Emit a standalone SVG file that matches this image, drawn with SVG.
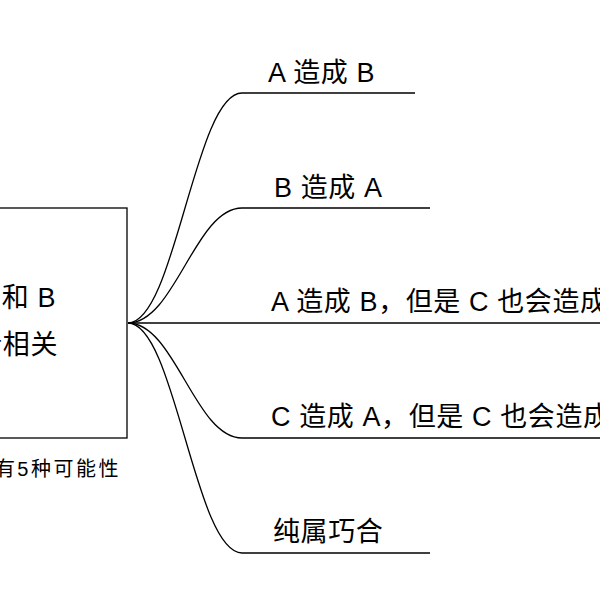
<svg xmlns="http://www.w3.org/2000/svg" width="600" height="600" viewBox="0 0 600 600">
<style>
text{font-family:"Liberation Sans","Noto Sans CJK SC",sans-serif;fill:#000}
.l{font-size:27px;letter-spacing:0.6px}
.e{stroke:#000;stroke-width:1.3;fill:none}
</style>
<rect width="600" height="600" fill="#fff"/>
<g id="root">
<rect x="-80" y="208" width="207" height="230" fill="#fff" stroke="#000" stroke-width="1.3"/>
<text class="l" x="56" y="307" text-anchor="end" font-size="28">A 和 B</text>
<text class="l" x="58" y="354" text-anchor="end" font-size="28">两者相关</text>
<text x="121" y="476" text-anchor="end" font-size="20" letter-spacing="2.5">有5种可能性</text>
</g>
<g id="connectors">
<path class="e" d="M128 323 C175 323 195 93 242 93 H415"/>
<path class="e" d="M128 323 C175 323 195 208 242 208 H430"/>
<path class="e" d="M128 323 H600"/>
<path class="e" d="M128 323 C175 323 195 438 242 438 H600"/>
<path class="e" d="M128 323 C175 323 195 553 242 553 H430"/>
</g>
<g id="n1"><text class="l" x="268" y="82">A 造成 B</text></g>
<g id="n2"><text class="l" x="274" y="197">B 造成 A</text></g>
<g id="n3"><text class="l" x="271" y="311">A 造成 B，但是 C 也会造成 B</text></g>
<g id="n4"><text class="l" x="271" y="426">C 造成 A，但是 C 也会造成 B</text></g>
<g id="n5"><text class="l" x="273" y="541">纯属巧合</text></g>
</svg>
